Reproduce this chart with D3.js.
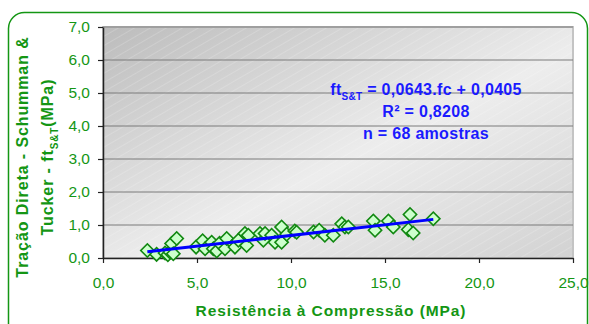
<!DOCTYPE html>
<html>
<head>
<meta charset="utf-8">
<script src="https://cdn.jsdelivr.net/npm/d3@7"></script>
<style>
  body { margin: 0; background: #fff; }
  svg { display: block; font-family: "Liberation Sans", Arial, sans-serif; }
</style>
</head>
<body>
<div id="chart-area"></div>
<script>
// compressive strength (MPa)
const fc = [2.36, 2.85, 3.3, 3.45, 3.56, 3.65, 3.74, 3.92, 4.95, 5.3, 5.43, 5.78, 5.87, 6.05, 6.2,
  6.49, 6.58, 7.02, 7.2, 7.55, 7.64, 7.73, 8.35, 8.53, 8.62, 8.97, 9.15, 9.5, 9.5, 9.77,
  10.2, 10.3, 11.2, 11.5, 11.8, 12.25, 12.7, 12.87, 13.05, 14.38, 14.47, 15.18, 15.44,
  16.24, 16.33, 16.5, 17.57];
// direct tensile strength ft S&T (MPa)
const ft = [0.23, 0.11, 0.15, 0.1, 0.18, 0.44, 0.13, 0.59, 0.33, 0.52, 0.28, 0.48, 0.28, 0.21, 0.45,
  0.28, 0.59, 0.33, 0.54, 0.74, 0.38, 0.69, 0.74, 0.54, 0.74, 0.69, 0.48, 0.94, 0.48, 0.72,
  0.82, 0.78, 0.79, 0.84, 0.69, 0.69, 1.04, 0.94, 0.94, 1.12, 0.84, 1.12, 0.94,
  0.86, 1.32, 0.76, 1.19];
const xTicks = [0, 5, 10, 15, 20, 25];
const yTicks = [0, 1, 2, 3, 4, 5, 6, 7];
const slope = 0.0643, intercept = 0.0405;
const eqLines = ["R² = 0,8208", "n = 68 amostras"];

const W = 589, H = 324;
const margin = { left: 103, right: 16, top: 27, bottom: 66 };
const width = W - margin.left - margin.right,
  height = H - margin.top - margin.bottom;
const green = "#149614";

const svg = d3.select("#chart-area").append("svg")
  .attr("width", W).attr("height", H);

// outer rounded frame
svg.append("rect")
  .attr("x", 8.5).attr("y", 12.5)
  .attr("width", 579).attr("height", 340)
  .attr("rx", 16)
  .attr("fill", "none").attr("stroke", green).attr("stroke-width", 1.5);

const defs = svg.append("defs");
const grad = defs.append("linearGradient").attr("id", "bg")
  .attr("x1", "0%").attr("y1", "0%").attr("x2", "100%").attr("y2", "100%");
grad.append("stop").attr("offset", "0%").attr("stop-color", "#bcbcbc");
grad.append("stop").attr("offset", "55%").attr("stop-color", "#ededed");
grad.append("stop").attr("offset", "100%").attr("stop-color", "#d2d2d2");
const pat = defs.append("pattern").attr("id", "hatch")
  .attr("width", 8).attr("height", 8)
  .attr("patternUnits", "userSpaceOnUse")
  .attr("patternTransform", "rotate(-30)");
pat.append("line").attr("x1", 0).attr("y1", 0).attr("x2", 8).attr("y2", 0)
  .attr("stroke", "#fff").attr("stroke-opacity", 0.35).attr("stroke-width", 1);

const g = svg.append("g")
  .attr("transform", `translate(${margin.left}, ${margin.top})`);

g.append("rect").attr("width", width).attr("height", height).attr("fill", "url(#bg)");
g.append("rect").attr("width", width).attr("height", height).attr("fill", "url(#hatch)");
g.append("rect").attr("width", width).attr("height", height)
  .attr("fill", "none").attr("stroke", "#c4c4c4").attr("stroke-width", 2);

const x = d3.scaleLinear().domain([0, 25]).range([0, width]);
const y = d3.scaleLinear().domain([0, 7]).range([height, 0]);
const fmt = d => d3.format(".1f")(d).replace(".", ",");

// gridlines
g.selectAll(".grid").data(yTicks.slice(1)).enter().append("line")
  .attr("x1", 0).attr("x2", width)
  .attr("y1", d => y(d)).attr("y2", d => y(d))
  .attr("stroke", "#7a7a7a").attr("stroke-width", 1);

const xAxis = g.append("g").attr("transform", `translate(0, ${height})`)
  .call(d3.axisBottom(x).tickValues(xTicks).tickFormat(fmt).tickSize(5).tickSizeOuter(0).tickPadding(14));
const yAxis = g.append("g")
  .call(d3.axisLeft(y).tickValues(yTicks).tickFormat(fmt).tickSize(5).tickSizeOuter(0).tickPadding(8));
[xAxis, yAxis].forEach(a => {
  a.select(".domain").attr("stroke", "#222").attr("stroke-width", 1.5);
  a.selectAll(".tick line").attr("stroke", "#222").attr("stroke-width", 1.2);
  a.selectAll("text").attr("fill", green).attr("font-size", 15.5)
    .attr("font-family", "'Liberation Sans', Arial, sans-serif");
});

// points
const pts = fc.map((v, i) => ({ fc: v, ft: ft[i] }));
g.selectAll(".pt").data(pts).enter().append("path")
  .attr("d", d3.symbol(d3.symbolSquare, 88))
  .attr("transform", d => `translate(${x(d.fc)}, ${y(d.ft)}) rotate(45)`)
  .attr("fill", "#ccffcc").attr("stroke", "#118811").attr("stroke-width", 1.6);

// trend line
const xr = d3.extent(fc);
g.append("line")
  .attr("x1", x(xr[0])).attr("y1", y(slope * xr[0] + intercept))
  .attr("x2", x(xr[1])).attr("y2", y(slope * xr[1] + intercept))
  .attr("stroke", "#0000ff").attr("stroke-width", 3);

// equation
const eqX = 426 - margin.left;
const eqStyle = t => t.attr("text-anchor", "middle").attr("fill", "#1a1aff")
  .attr("font-size", 16).attr("font-weight", "bold").attr("letter-spacing", 0.3);
const eq = g.append("text").attr("x", eqX).attr("y", 95 - margin.top).call(eqStyle);
eq.append("tspan").text("ft");
eq.append("tspan").text("S&T").attr("font-size", 10).attr("dy", 5);
eq.append("tspan").text(" = 0,0643.fc + 0,0405").attr("dy", -5);
eqLines.forEach((t, i) => {
  g.append("text").attr("x", eqX).attr("y", 117 - margin.top + i * 22)
    .call(eqStyle).text(t);
});

// axis titles
svg.append("text").attr("x", 331).attr("y", 316)
  .attr("text-anchor", "middle").attr("fill", green)
  .attr("font-size", 15.5).attr("font-weight", "bold")
  .attr("letter-spacing", 0.9)
  .text("Resistência à Compressão (MPa)");

const yt = svg.append("text")
  .attr("transform", "translate(0, 157) rotate(-90)")
  .attr("text-anchor", "middle").attr("fill", green)
  .attr("font-size", 16).attr("font-weight", "bold").attr("letter-spacing", 0.9);
yt.append("tspan").attr("x", 0).attr("y", 28).text("Tração Direta - Schumman &");
const l2 = yt.append("tspan").attr("x", 0).attr("y", 53);
l2.append("tspan").text("Tucker - ft");
l2.append("tspan").text("S&T").attr("font-size", 10).attr("dy", 5);
l2.append("tspan").text("(MPa)").attr("dy", -5);
</script>
</body>
</html>
